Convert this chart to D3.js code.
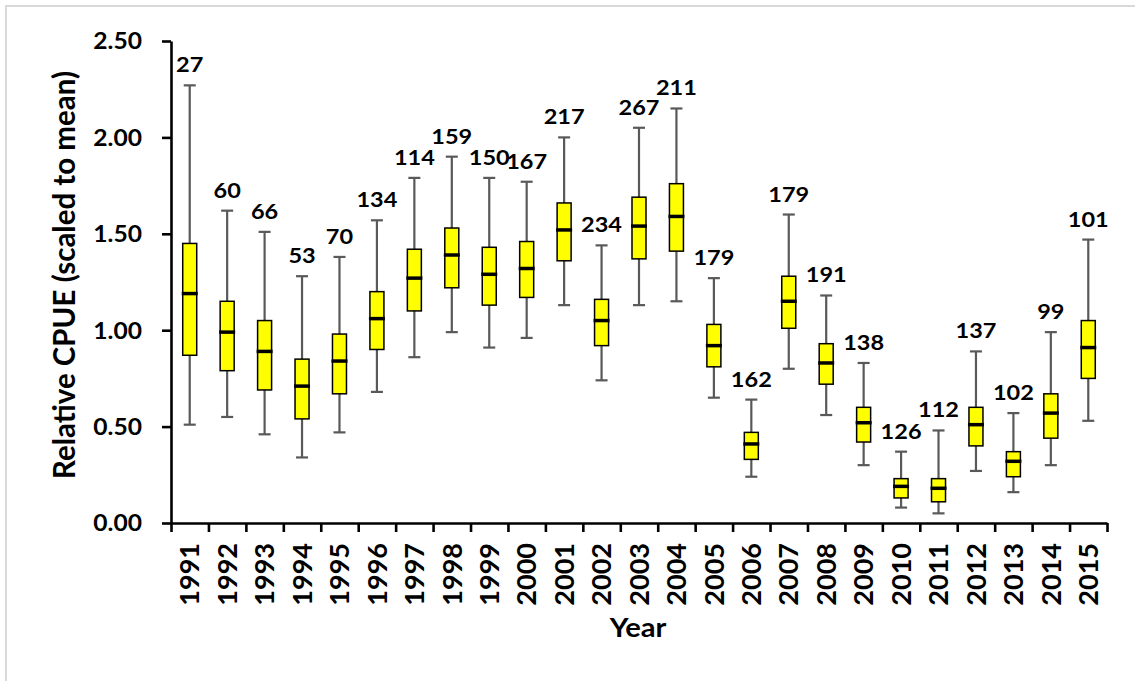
<!DOCTYPE html>
<html>
<head>
<meta charset="utf-8">
<script src="https://cdn.jsdelivr.net/npm/d3@7"></script>
<style>
  body { margin: 0; background: #fff; }
  svg { display: block; font-family: Lato, 'Open Sans', sans-serif; font-weight: bold; }
</style>
</head>
<body>
<svg id="chart"></svg>
<script>
// box plot of relative CPUE per year, n shown above each whisker
let years = [1991,1992,1993,1994,1995,1996,1997,1998,1999,2000,2001,2002,2003,
             2004,2005,2006,2007,2008,2009,2010,2011,2012,2013,2014,2015]
let nLabels = [27,60,66,53,70,134,114,159,150,167,217,234,267,211,179,162,179,191,138,126,112,137,102,99,101]

let whiskerHigh = [2.27,1.62,1.51,1.28,1.38,1.57,1.79,1.90,1.79,1.77,2.00,1.44,2.05,2.15,1.27,0.64,1.60,1.18,0.83,0.37,0.48,0.89,0.57,0.99,1.47]
let q3 = [1.45,1.15,1.05,0.85,0.98,1.20,1.42,1.53,1.43,1.46,1.66,1.16,1.69,1.76,1.03,0.47,1.28,0.93,0.60,0.23,0.23,0.60,0.37,0.67,1.05]
let medians = [1.19,0.99,0.89,0.71,0.84,1.06,1.27,1.39,1.29,1.32,1.52,1.05,1.54,1.59,0.92,0.41,1.15,0.83,0.52,0.19,0.18,0.51,0.32,0.57,0.91]
let q1 = [0.87,0.79,0.69,0.54,0.67,0.90,1.10,1.22,1.13,1.17,1.36,0.92,1.37,1.41,0.81,0.33,1.01,0.72,0.42,0.13,0.11,0.40,0.24,0.44,0.75]
let whiskerLow = [0.51,0.55,0.46,0.34,0.47,0.68,0.86,0.99,0.91,0.96,1.13,0.74,1.13,1.15,0.65,0.24,0.80,0.56,0.30,0.08,0.05,0.27,0.16,0.30,0.53]

let yTicks = [0, 0.5, 1.0, 1.5, 2.0, 2.5]

let width = 1135
let height = 681
let sx = 1.12   // the source image is a bit wider than tall, so horizontal text is stretched a little

let plotLeft = 171, plotRight = 1107, plotTop = 41, plotBottom = 523

let svg = d3.select('#chart').attr('width', width).attr('height', height)

let rows = years.map((yr, i) => ({
    year: yr, n: nLabels[i], hi: whiskerHigh[i], q3: q3[i], med: medians[i], q1: q1[i], lo: whiskerLow[i]
}))

let x = d3.scaleBand().domain(years).range([plotLeft, plotRight]).padding(0)
let y = d3.scaleLinear().domain([0, 2.5]).range([plotBottom, plotTop])
let cx = (d) => x(d.year) + x.bandwidth() / 2

// light frame of the chart area
svg.append('rect')
   .attr('x', 6).attr('y', 6)
   .attr('width', 1300).attr('height', 900)
   .attr('fill', 'none')
   .attr('stroke', '#d9d9d9')
   .attr('stroke-width', 2)

// whiskers
let marks = svg.append('g')

marks.selectAll('.whisker')
   .data(rows)
   .enter()
   .append('line')
   .attr('class', 'whisker')
   .attr('x1', cx).attr('x2', cx)
   .attr('y1', (d) => y(d.lo)).attr('y2', (d) => y(d.hi))
   .attr('stroke', '#595959').attr('stroke-width', 2.2)

marks.selectAll('.cap-hi')
   .data(rows)
   .enter()
   .append('line')
   .attr('class', 'cap-hi')
   .attr('x1', (d) => cx(d) - 6).attr('x2', (d) => cx(d) + 6)
   .attr('y1', (d) => y(d.hi)).attr('y2', (d) => y(d.hi))
   .attr('stroke', '#595959').attr('stroke-width', 2.2)

marks.selectAll('.cap-lo')
   .data(rows)
   .enter()
   .append('line')
   .attr('class', 'cap-lo')
   .attr('x1', (d) => cx(d) - 6).attr('x2', (d) => cx(d) + 6)
   .attr('y1', (d) => y(d.lo)).attr('y2', (d) => y(d.lo))
   .attr('stroke', '#595959').attr('stroke-width', 2.2)

// boxes
marks.selectAll('.box')
   .data(rows)
   .enter()
   .append('rect')
   .attr('class', 'box')
   .attr('x', (d) => cx(d) - 7)
   .attr('width', 14)
   .attr('y', (d) => y(d.q3))
   .attr('height', (d) => y(d.q1) - y(d.q3))
   .attr('fill', '#ffff00')
   .attr('stroke', '#000')
   .attr('stroke-width', 1.5)

marks.selectAll('.median')
   .data(rows)
   .enter()
   .append('line')
   .attr('class', 'median')
   .attr('x1', (d) => cx(d) - 8).attr('x2', (d) => cx(d) + 8)
   .attr('y1', (d) => y(d.med)).attr('y2', (d) => y(d.med))
   .attr('stroke', '#000').attr('stroke-width', 3.5)

// sample sizes
marks.selectAll('.nlabel')
   .data(rows)
   .enter()
   .append('text')
   .attr('class', 'nlabel')
   .attr('text-anchor', 'middle')
   .attr('font-size', 21)
   .attr('transform', (d) => `translate(${cx(d)},${y(d.hi) - 13}) scale(${sx},1)`)
   .text((d) => d.n)

// y axis
let yAxis = d3.axisLeft(y)
              .tickValues(yTicks)
              .tickFormat(d3.format('.2f'))
              .tickSize(9)
              .tickSizeOuter(0)

let gy = svg.append('g')
   .attr('transform', `translate(${plotLeft},0)`)
   .call(yAxis)
   .attr('font-size', 22)
   .attr('font-family', null)

gy.selectAll('path, line').attr('stroke', '#000').attr('stroke-width', 2.6)
gy.selectAll('text')
  .attr('x', 0)
  .attr('dy', '0.36em')
  .attr('fill', '#000')
  .attr('transform', `translate(-29,0) scale(${sx},1)`)

// x axis: labels on the categories, tick marks between them
let xAxis = d3.axisBottom(x).tickSize(0).tickSizeOuter(0)

let gx = svg.append('g')
   .attr('transform', `translate(0,${plotBottom})`)
   .call(xAxis)
   .attr('font-size', 27)
   .attr('font-family', null)

gx.selectAll('path').attr('stroke', '#000').attr('stroke-width', 2.6)
gx.selectAll('text')
  .attr('x', 0).attr('y', 0)
  .attr('dy', '0.36em')
  .attr('text-anchor', 'end')
  .attr('fill', '#000')
  .attr('transform', 'translate(0,20) rotate(-90)')

let xEdges = d3.scaleLinear().domain([0, years.length]).range([plotLeft, plotRight])
let gxt = svg.append('g')
   .attr('transform', `translate(0,${plotBottom})`)
   .call(d3.axisBottom(xEdges).tickValues(d3.range(years.length + 1)).tickFormat('').tickSize(9))

gxt.select('.domain').remove()
gxt.selectAll('line').attr('stroke', '#000').attr('stroke-width', 2.6)

// axis titles
svg.append('text')
   .attr('text-anchor', 'middle')
   .attr('font-size', 26)
   .attr('transform', `translate(638,637) scale(${sx},1)`)
   .text('Year')

svg.append('text')
   .attr('text-anchor', 'middle')
   .attr('font-size', 29.5)
   .attr('transform', 'translate(75,275) rotate(-90)')
   .text('Relative CPUE (scaled to mean)')
</script>
</body>
</html>
